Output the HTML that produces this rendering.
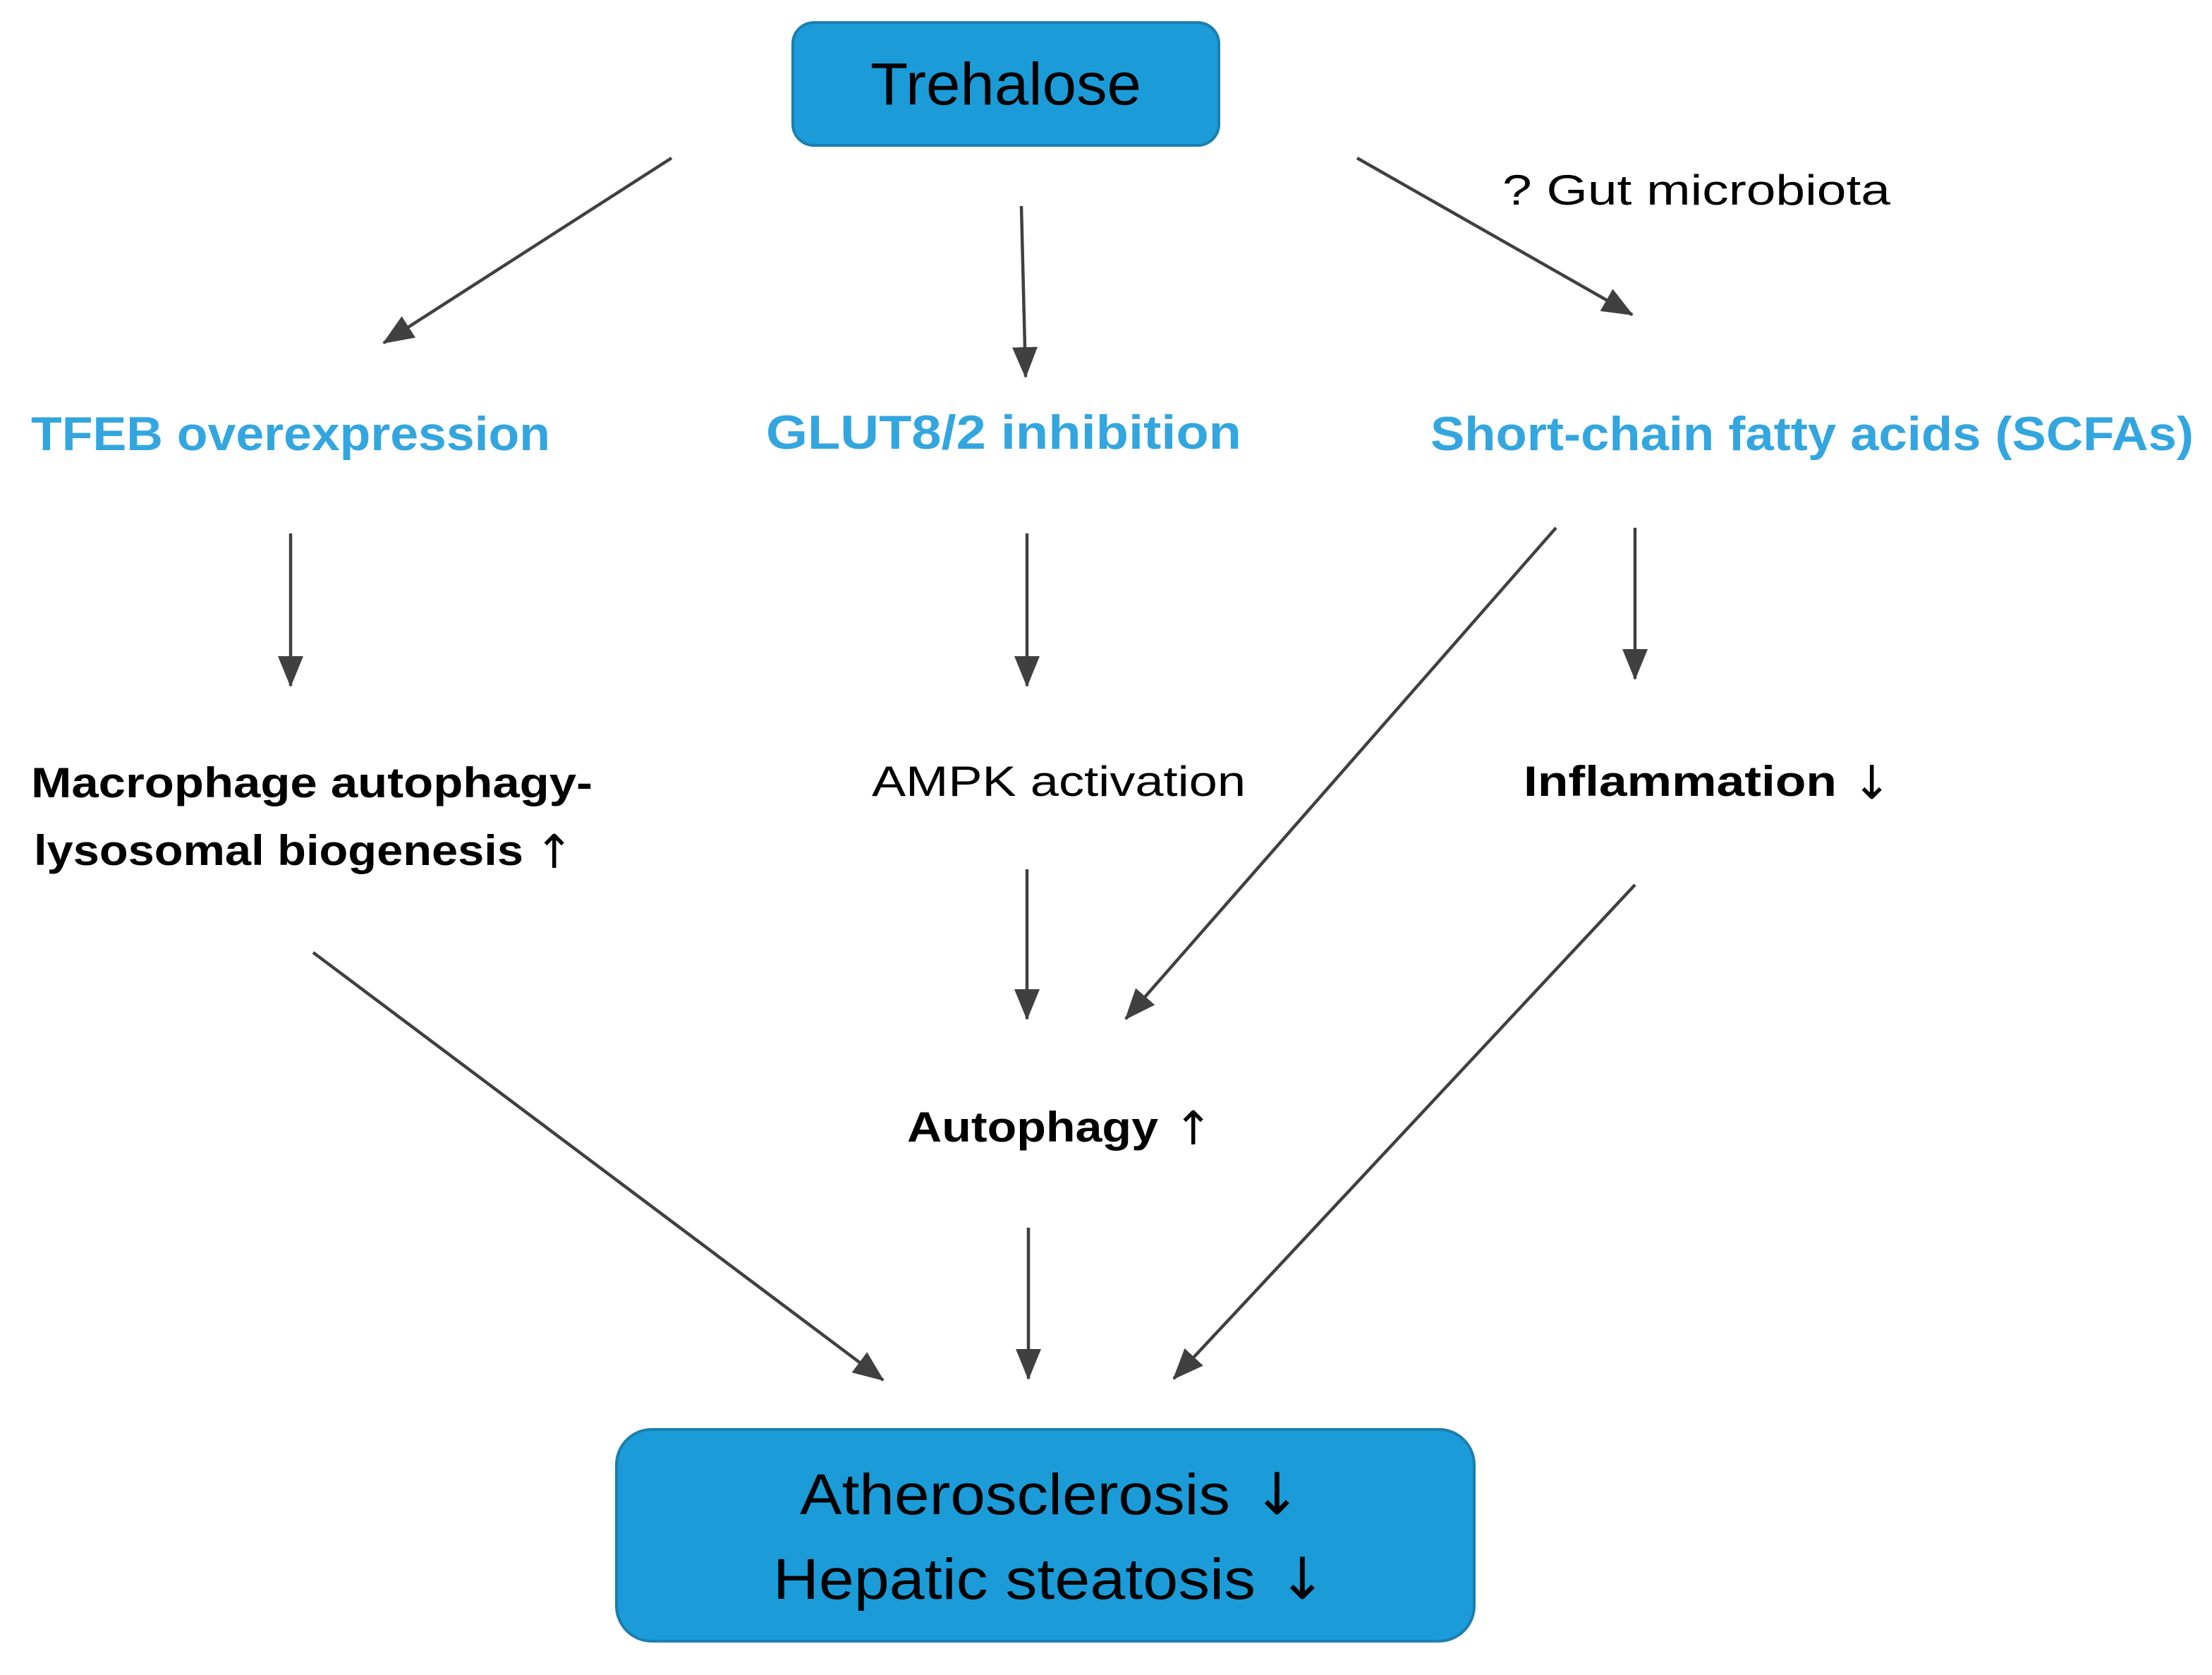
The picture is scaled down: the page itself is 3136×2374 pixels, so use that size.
<!DOCTYPE html>
<html><head><meta charset="utf-8"><style>
html,body{margin:0;padding:0;background:#fff;}
svg{display:block;}
text{font-family:"Liberation Sans",sans-serif;}
.ar{font-family:"DejaVu Sans",sans-serif;font-weight:normal;}
</style></head><body>
<svg width="3136" height="2374" viewBox="0 0 3136 2374" xmlns="http://www.w3.org/2000/svg">
<defs>
<marker id="ah" markerWidth="44" markerHeight="36" refX="42" refY="18" orient="auto" markerUnits="userSpaceOnUse" viewBox="0 0 44 36">
<path d="M0,0 L44,18 L0,36 z" fill="#404040"/>
</marker>
</defs>
<rect width="3136" height="2374" fill="#fff"/>
<rect x="1124" y="32" width="604" height="174" rx="30" fill="#1B9CD8" stroke="#1A7FB0" stroke-width="4"/>
<text x="1426" y="148" font-size="84" text-anchor="middle" textLength="384" lengthAdjust="spacingAndGlyphs" fill="#000">Trehalose</text>
<rect x="874" y="2026" width="1216" height="300" rx="50" fill="#1B9CD8" stroke="#1A7FB0" stroke-width="4"/>
<text x="1134" y="2146" font-size="82" textLength="610" lengthAdjust="spacingAndGlyphs" fill="#000">Atherosclerosis</text>
<text x="1776" y="2146" font-size="82" class="ar" fill="#000">↓</text>
<text x="1096" y="2266" font-size="82" textLength="684" lengthAdjust="spacingAndGlyphs" fill="#000">Hepatic steatosis</text>
<text x="1812" y="2266" font-size="82" class="ar" fill="#000">↓</text>

<g fill="#33A6DF" font-weight="bold" font-size="68">
<text x="44" y="638" textLength="736" lengthAdjust="spacingAndGlyphs">TFEB overexpression</text>
<text x="1086" y="636" textLength="674" lengthAdjust="spacingAndGlyphs">GLUT8/2 inhibition</text>
<text x="2028" y="638" textLength="1082" lengthAdjust="spacingAndGlyphs">Short-chain fatty acids (SCFAs)</text>
</g>
<text x="2130" y="290" font-size="60" textLength="550" lengthAdjust="spacingAndGlyphs" fill="#000">?  Gut microbiota</text>
<g fill="#000" font-size="60">
<text x="44" y="1130" font-weight="bold" textLength="796" lengthAdjust="spacingAndGlyphs">Macrophage autophagy-</text>
<text x="48" y="1226" font-weight="bold" textLength="694" lengthAdjust="spacingAndGlyphs">lysosomal biogenesis</text>
<text x="758" y="1230" font-size="66" class="ar">↑</text>
<text x="1236" y="1128" textLength="530" lengthAdjust="spacingAndGlyphs">AMPK activation</text>
<text x="2160" y="1128" font-weight="bold" textLength="444" lengthAdjust="spacingAndGlyphs">Inflammation</text>
<text x="2626" y="1132" font-size="66" class="ar">↓</text>
<text x="1286" y="1618" font-weight="bold" textLength="356" lengthAdjust="spacingAndGlyphs">Autophagy</text>
<text x="1664" y="1622" font-size="66" class="ar">↑</text>
</g>

<g stroke="#404040" stroke-width="4.5" fill="none" marker-end="url(#ah)">
<line x1="952" y1="224" x2="544" y2="486"/>
<line x1="1448" y1="292" x2="1454" y2="534"/>
<line x1="1924" y1="224" x2="2314" y2="446"/>
<line x1="412" y1="756" x2="412" y2="972"/>
<line x1="1456" y1="756" x2="1456" y2="972"/>
<line x1="2318" y1="748" x2="2318" y2="962"/>
<line x1="2206" y1="748" x2="1596" y2="1444"/>
<line x1="1456" y1="1232" x2="1456" y2="1444"/>
<line x1="444" y1="1350" x2="1252" y2="1956"/>
<line x1="1458" y1="1740" x2="1458" y2="1954"/>
<line x1="2318" y1="1254" x2="1664" y2="1954"/>
</g>
</svg>
</body></html>
